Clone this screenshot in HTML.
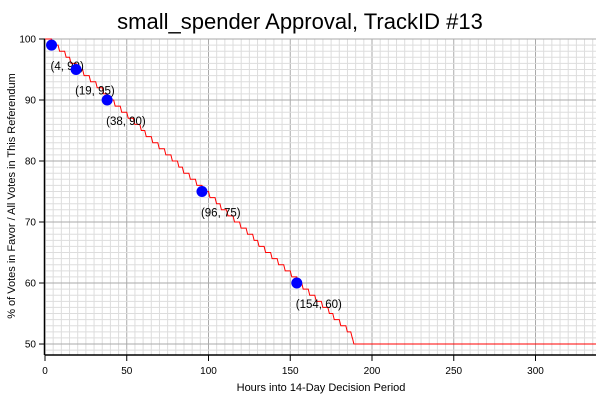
<!DOCTYPE html>
<html><head><meta charset="utf-8"><style>
html,body{margin:0;padding:0;background:#fff;}
svg{display:block;font-family:"Liberation Sans",Arial,sans-serif;}
</style></head><body>
<svg id="chart" width="600" height="400">
<text x="300" y="29" text-anchor="middle" font-size="22">small_spender Approval, TrackID #13</text>
<text transform="translate(15,196) rotate(-90)" text-anchor="middle" font-size="11">% of Votes in Favor / All Votes in This Referendum</text>
<text x="321" y="391" text-anchor="middle" font-size="11">Hours into 14-Day Decision Period</text>
<g id="grid"></g>
<g id="axes"></g>
<g id="marks"></g>
</svg>
<script>
const xTicks = [0, 50, 100, 150, 200, 250, 300];
const yTicks = [50, 60, 70, 80, 90, 100];
const stepValues = [100,99,98,97,96,95,94,93,92,91,90,89,88,87,86,85,84,83,82,81,80,79,78,77,76,75,74,73,72,71,70,69,68,67,66,65,64,63,62,61,60,59,58,57,56,55,54,53,52,51,50];
const stepHours = [0,4,8,12,15,19,23,27,31,35,38,42,46,50,54,58,61,65,69,73,77,81,84,88,92,96,100,104,107,111,115,119,123,127,130,134,138,142,146,150,154,157,161,165,169,173,176,180,184,187,188];
const pointHours = [4, 19, 38, 96, 154];
const pointValues = [99, 95, 90, 75, 60];
const xMax = 337;
const yMin = 48.2, yMax = 100;

const X0 = 45, X1 = 596, Y0 = 355, Y1 = 39;
function sx(h){ return X0 + (h/xMax)*(X1-X0); }
function sy(v){ return Y0 - (v-yMin)/(yMax-yMin)*(Y0-Y1); }
const NS = "http://www.w3.org/2000/svg";
function mk(tag, attrs, parent){ const e=document.createElementNS(NS,tag); for(const k in attrs) e.setAttribute(k,attrs[k]); parent.appendChild(e); return e; }
const grid=document.getElementById('grid'), axes=document.getElementById('axes'), marks=document.getElementById('marks');

for(let h=0; h<=xMax; h+=5){
  const major = h%50===0;
  const l = mk('line',{x1:sx(h),x2:sx(h),y1:Y1,y2:Y0,stroke:major?'#aaa':'#ddd','stroke-width':1},grid);
  
  
}
for(let v=49; v<=100; v+=1){
  const major = v%10===0;
  const l = mk('line',{x1:X0,x2:X1,y1:sy(v),y2:sy(v),stroke:major?'#aaa':'#ddd','stroke-width':1},grid);
  
  
}
const xa = mk('line',{x1:X0,x2:X1,y1:Y0,y2:Y0,stroke:'#000','stroke-width':1.5},axes);


const ya = mk('line',{x1:X0-0.5,x2:X0-0.5,y1:Y1,y2:Y0,stroke:'#000','stroke-width':1.5},axes);


xTicks.forEach(t=>{
  const tk = mk('line',{x1:sx(t),x2:sx(t),y1:Y0,y2:Y0+6,stroke:'#000'},axes);
  
  
  const tx = mk('text',{x:sx(t),y:Y0+19,'text-anchor':'middle','font-size':10},axes);
  tx.textContent = t;
  
  
});
yTicks.forEach(t=>{
  const tk = mk('line',{x1:X0-6,x2:X0,y1:sy(t),y2:sy(t),stroke:'#000'},axes);
  
  
  const tx = mk('text',{x:X0-9,y:sy(t)+3.5,'text-anchor':'end','font-size':10},axes);
  tx.textContent = t;
  
  
});
let d = 'M'+sx(stepHours[0])+','+sy(stepValues[0]);
for(let i=1;i<stepHours.length;i++){
  d += ' L'+sx(stepHours[i])+','+sy(stepValues[i-1])+' L'+(sx(stepHours[i])+1.5)+','+sy(stepValues[i]);
}
d += ' L'+sx(xMax)+','+sy(stepValues[stepValues.length-1]);
const line = mk('path',{d:d,fill:'none',stroke:'red','stroke-width':1},marks);


pointHours.forEach((h,i)=>{
  const c = mk('circle',{cx:sx(h),cy:sy(pointValues[i]),r:5.5,fill:'blue'},marks);
  
  
  const t = mk('text',{x:sx(h)-1,y:sy(pointValues[i])+25,'font-size':11.5},marks);
  t.textContent = '('+h+', '+pointValues[i]+')';
  
  
});
</script>
</body></html>
